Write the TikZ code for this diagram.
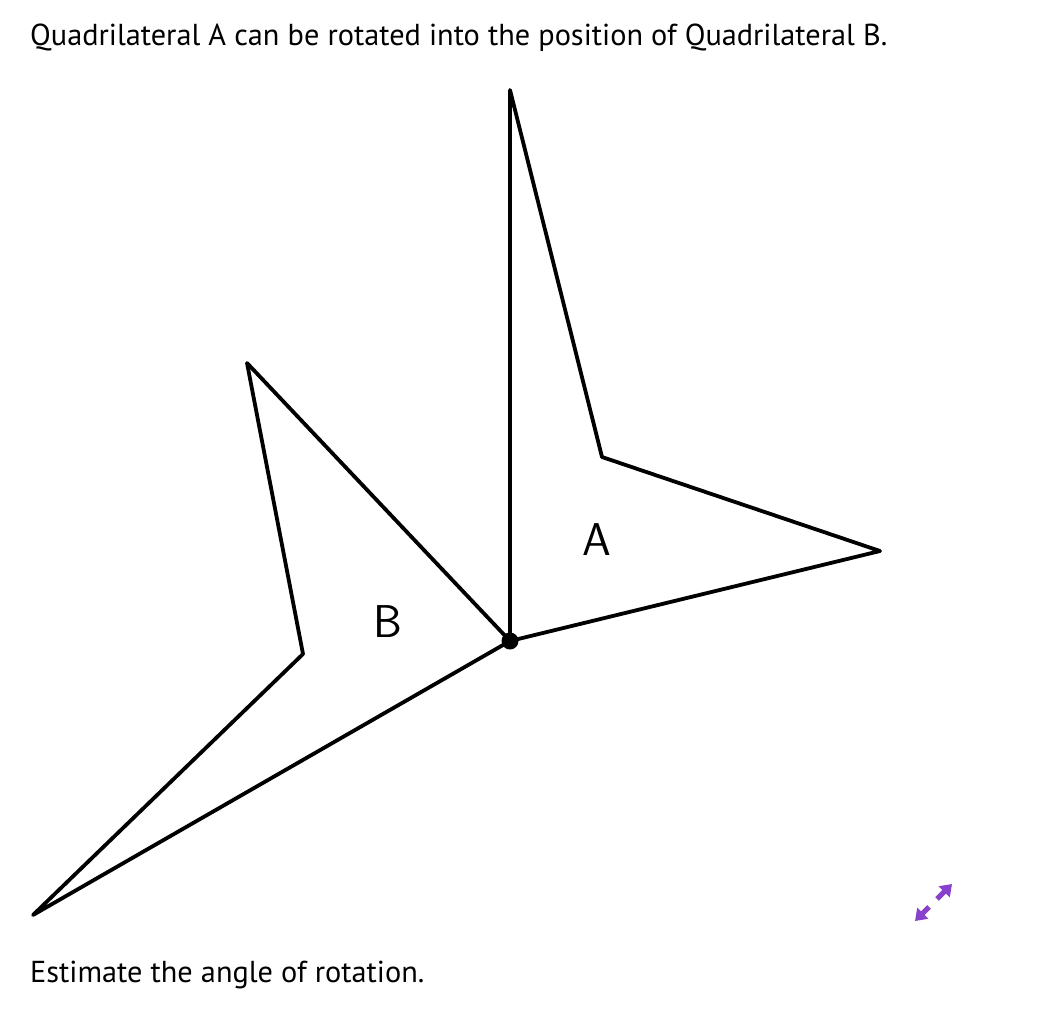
\documentclass[tikz,border=0pt]{standalone}
\usepackage{fontspec}
\setmainfont{PT Sans}
\usetikzlibrary{arrows.meta}
\definecolor{iconpurple}{RGB}{135,65,205}

\begin{document}
\begin{tikzpicture}[x=1pt,y=-1pt,
  edge/.style={line width=3.8pt,line join=round},
  caption/.style={anchor=base west,inner sep=0pt,font=\fontsize{30.3}{36}\selectfont},
  shapelabel/.style={inner sep=0pt,font=\fontsize{46}{50}\selectfont\sffamily}]
  \useasboundingbox (0,0) rectangle (1040,1022);
  \node[caption] (title) at (30,46) {Quadrilateral A can be rotated into the position of Quadrilateral B.};
  \node[caption] (question) at (30,982) {Estimate the angle of rotation.};
  % quadrilateral A
  \coordinate (O) at (510,641);
  \coordinate (a1) at (510,90);
  \coordinate (a2) at (602,457);
  \coordinate (a3) at (880,551);
  \draw[edge] (O) -- (a1) -- (a2) -- (a3) -- cycle;
  % quadrilateral B
  \coordinate (b1) at (247,363);
  \coordinate (b2) at (303,654);
  \coordinate (b3) at (33,915);
  \draw[edge] (O) -- (b1) -- (b2) -- (b3) -- cycle;
  \fill (O) circle (8.5);
  \node[shapelabel] (labelA) at (597,540) {A};
  \node[shapelabel] (labelB) at (388,622) {B};
  % resize icon
  \coordinate (icon) at (933,903);
  \draw[iconpurple,line width=5pt,-{Triangle[length=11pt,width=15pt]}] ([shift={(4,-4)}]icon) -- (952,884);
  \draw[iconpurple,line width=5pt,-{Triangle[length=11pt,width=15pt]}] ([shift={(-4,4)}]icon) -- (915,921);
\end{tikzpicture}
\end{document}
